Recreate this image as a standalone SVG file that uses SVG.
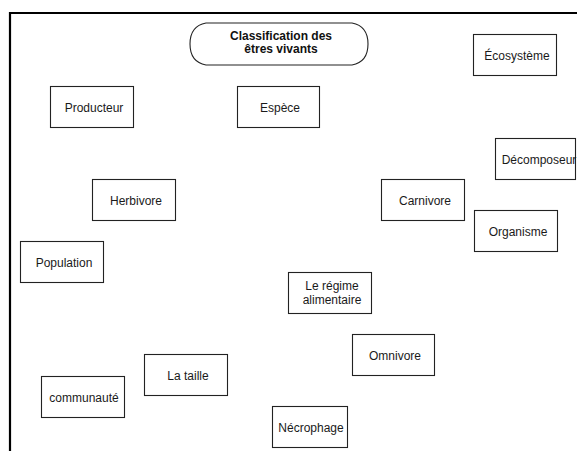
<svg xmlns="http://www.w3.org/2000/svg" width="577" height="451" viewBox="0 0 577 451">
  <style>
    .box { fill: #ffffff; stroke: #222222; stroke-width: 1.1; }
    .lbl { font-family: "Liberation Sans", Arial, sans-serif; font-size: 12px; fill: #1a1a1a; text-anchor: middle; }
    .title { font-family: "Liberation Sans", Arial, sans-serif; font-size: 12px; font-weight: bold; fill: #111111; text-anchor: middle; }
    .frame { fill: none; stroke: #000000; stroke-width: 2.2; }
  </style>
  <rect width="577" height="451" fill="#ffffff"/>

  <!-- page frame: top and left edges -->
  <path class="frame" d="M10,451 V13 H577"/>

  <!-- title terminator -->
  <g id="title">
    <path class="box" d="M206,23 H352 Q368,26 368,44 Q368,62 352,65 H206 Q190,62 190,44 Q190,26 206,23 Z"/>
    <text class="title" x="281" y="40">Classification des</text>
    <text class="title" x="281" y="53">êtres vivants</text>
  </g>

  <g id="ecosysteme">
    <rect class="box" x="473.5" y="34.5" width="83" height="41"/>
    <text class="lbl" x="517" y="59.5">Écosystème</text>
  </g>
  <g id="producteur">
    <rect class="box" x="50.5" y="86.5" width="83" height="41"/>
    <text class="lbl" x="94" y="112">Producteur</text>
  </g>
  <g id="espece">
    <rect class="box" x="237.5" y="86.5" width="82" height="41"/>
    <text class="lbl" x="280" y="112">Espèce</text>
  </g>
  <g id="decomposeur">
    <rect class="box" x="495.5" y="138.5" width="80" height="41"/>
    <text class="lbl" x="539" y="163.5">Décomposeur</text>
  </g>
  <g id="herbivore">
    <rect class="box" x="92.5" y="179.5" width="83" height="41"/>
    <text class="lbl" x="136" y="205">Herbivore</text>
  </g>
  <g id="carnivore">
    <rect class="box" x="381.5" y="179.5" width="83" height="41"/>
    <text class="lbl" x="425" y="205">Carnivore</text>
  </g>
  <g id="organisme">
    <rect class="box" x="474.5" y="210.5" width="83" height="41"/>
    <text class="lbl" x="518" y="236">Organisme</text>
  </g>
  <g id="population">
    <rect class="box" x="20.5" y="241.5" width="83" height="41"/>
    <text class="lbl" x="64" y="267">Population</text>
  </g>
  <g id="regime">
    <rect class="box" x="288.5" y="272.5" width="83" height="41"/>
    <text class="lbl" x="332" y="290">Le régime</text>
    <text class="lbl" x="332" y="303.5">alimentaire</text>
  </g>
  <g id="omnivore">
    <rect class="box" x="352.5" y="334.5" width="82" height="41"/>
    <text class="lbl" x="395" y="360">Omnivore</text>
  </g>
  <g id="taille">
    <rect class="box" x="144.5" y="354.5" width="83" height="41"/>
    <text class="lbl" x="188" y="380">La taille</text>
  </g>
  <g id="communaute">
    <rect class="box" x="41.5" y="376.5" width="83" height="41"/>
    <text class="lbl" x="84" y="402">communauté</text>
  </g>
  <g id="necrophage">
    <rect class="box" x="272.5" y="406.5" width="75" height="41"/>
    <text class="lbl" x="311" y="432">Nécrophage</text>
  </g>

  <!-- no connectors are drawn between the concepts -->
  <g id="connectors"/>
</svg>
